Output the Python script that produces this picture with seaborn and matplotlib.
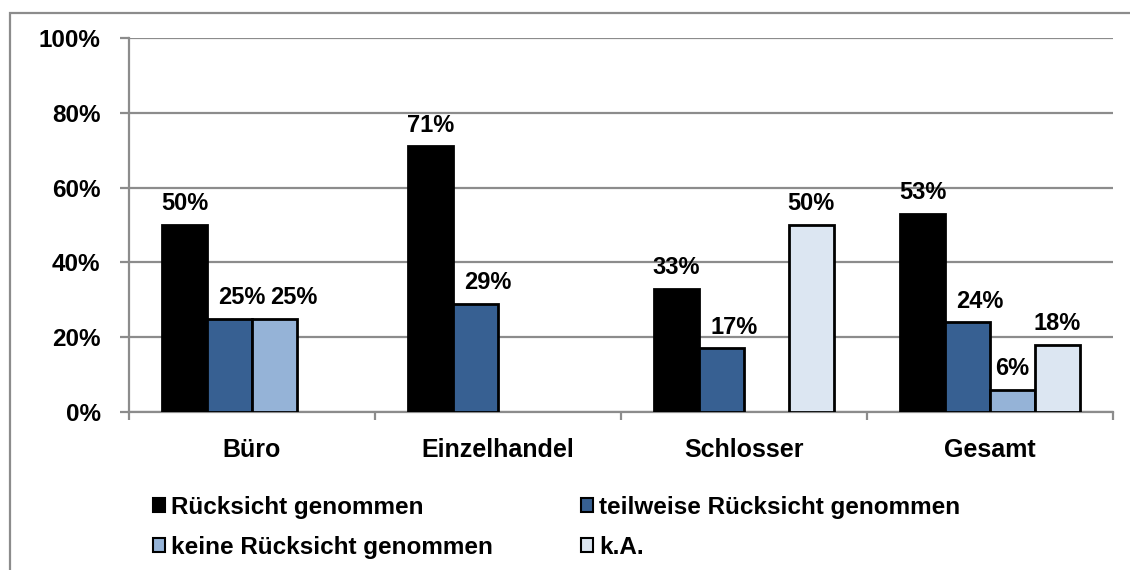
import numpy as np
import pandas as pd
import matplotlib
matplotlib.use("Agg")
import matplotlib.pyplot as plt
import seaborn as sns
from matplotlib.patches import Patch, Rectangle
from matplotlib.ticker import FuncFormatter

categories = ["Büro", "Einzelhandel", "Schlosser", "Gesamt"]
series_names = ["Rücksicht genommen", "teilweise Rücksicht genommen",
                "keine Rücksicht genommen", "k.A."]
ruecksicht = [50, 71, 33, 53]
teilweise = [25, 29, 17, 24]
keine = [25, np.nan, np.nan, 6]
ka = [np.nan, np.nan, 50, 18]
colors = ["#000000", "#376092", "#95B3D7", "#DCE6F2"]
yticks = [0, 20, 40, 60, 80, 100]

rows = []
for name, vals in zip(series_names, [ruecksicht, teilweise, keine, ka]):
    for c, v in zip(categories, vals):
        rows.append({"Kategorie": c, "Serie": name, "Wert": v})
df = pd.DataFrame(rows).dropna()

sns.set_theme(style="white")
plt.rcParams["font.family"] = ["Liberation Sans", "DejaVu Sans"]
plt.rcParams["font.weight"] = "bold"
plt.rcParams["text.color"] = "black"
plt.rcParams["xtick.color"] = "black"
plt.rcParams["ytick.color"] = "black"

fig = plt.figure(figsize=(11.3, 5.7), dpi=100)
ax = fig.add_axes([129 / 1130, 1 - 412 / 570, (1113 - 129) / 1130, (412 - 38) / 570])

sns.barplot(data=df, x="Kategorie", y="Wert", hue="Serie", order=categories,
            hue_order=series_names, palette=colors, saturation=1, width=0.73,
            gap=0, errorbar=None, edgecolor="black", linewidth=2.0, ax=ax,
            legend=False, zorder=3)

# value labels; the second series is nudged slightly right as in the original
label_sets = []
for i, cont in enumerate(ax.containers):
    texts = ax.bar_label(cont, fmt="{:.0f}%", padding=7, fontsize=17,
                         fontweight="bold", color="black")
    if i == 1:
        for t in texts:
            t.xyann = (t.xyann[0] + 9, t.xyann[1])
    label_sets.append(list(zip([b.get_x() + b.get_width() / 2 for b in cont], texts)))

gray = "#8c8c8c"
ax.set_xlim(-0.5, 3.5)
ax.set_ylim(0, 100)
ax.set_yticks(yticks)
ax.yaxis.set_major_formatter(FuncFormatter(lambda v, p: f"{v:.0f}%"))
ax.yaxis.grid(True, color=gray, linewidth=1.6, zorder=0)
ax.set_axisbelow(True)
ax.set_xlabel("")
ax.set_ylabel("")
for s in ["top", "right"]:
    ax.spines[s].set_visible(False)
for s in ["left", "bottom"]:
    ax.spines[s].set_color(gray)
    ax.spines[s].set_linewidth(1.6)
ax.tick_params(axis="y", which="major", length=6.5, width=1.6, color=gray,
               pad=14, labelsize=17.5, left=True, labelcolor="black")
ax.tick_params(axis="x", which="major", length=0, pad=19, labelsize=18,
               labelcolor="black")
ax.set_xticks([-0.5, 0.5, 1.5, 2.5, 3.5], minor=True)
ax.tick_params(axis="x", which="minor", length=6, width=1.6, color=gray,
               bottom=True)
for lab in ax.get_xticklabels() + ax.get_yticklabels():
    lab.set_fontweight("bold")

# resolve overlapping value labels within a group by pushing right
fig.canvas.draw()
renderer = fig.canvas.get_renderer()
for ci in range(len(categories)):
    prev = None
    for s in range(len(label_sets)):
        for xc, t in label_sets[s]:
            if abs(xc - ci) > 0.5:
                continue
            bb = t.get_window_extent(renderer)
            if prev is not None and bb.x0 < prev.x1 + 4 and bb.y0 < prev.y1 and bb.y1 > prev.y0:
                shift = prev.x1 + 4 - bb.x0
                t.xyann = (t.xyann[0] + shift * 72 / fig.dpi, t.xyann[1])
                fig.canvas.draw()
                bb = t.get_window_extent(renderer)
            prev = bb

handles = [Patch(facecolor=c, edgecolor="black", linewidth=1.5) for c in colors]
order = [0, 2, 1, 3]
fig.legend([handles[i] for i in order], [series_names[i] for i in order],
           ncol=2, loc="upper left",
           bbox_to_anchor=(153 / 1130, 1 - 496 / 570), frameon=False,
           prop={"weight": "bold", "size": 17.5}, handlelength=0.5,
           handleheight=0.5, handletextpad=0.25, columnspacing=3.6,
           labelspacing=0.7, borderpad=0, borderaxespad=0)

fig.patches.append(Rectangle((10 / 1130, -0.1), 1.2, (570 - 13) / 570 + 0.1,
                             transform=fig.transFigure, fill=False,
                             edgecolor=gray, linewidth=1.6))

fig.savefig("out.png", dpi=100)
